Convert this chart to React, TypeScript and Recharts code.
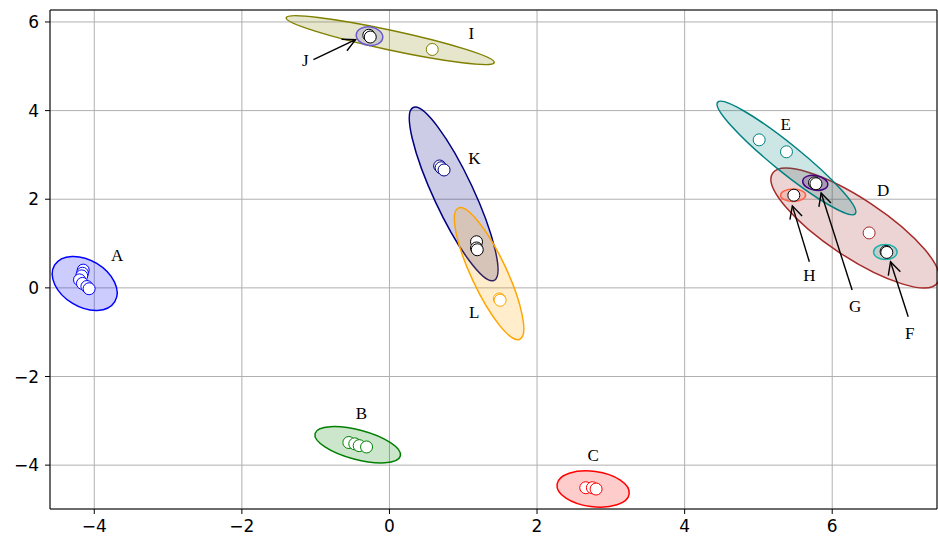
import React from "react";
import {
  ScatterChart,
  Scatter,
  XAxis,
  YAxis,
  CartesianGrid,
  ReferenceArea,
  ReferenceLine,
} from "recharts";

// axis limits and ticks
const xDomain: [number, number] = [-4.6, 7.42];
const yDomain: [number, number] = [-4.99, 6.27];
const xTicks = [-4, -2, 0, 2, 4, 6];
const yTicks = [-4, -2, 0, 2, 4, 6];

type Pt = { x: number; y: number };

// cluster members
const pointsA: Pt[] = [
  { x: -4.15, y: 0.4 },
  { x: -4.16, y: 0.33 },
  { x: -4.17, y: 0.27 },
  { x: -4.2, y: 0.18 },
  { x: -4.16, y: 0.1 },
  { x: -4.1, y: 0.03 },
  { x: -4.07, y: -0.02 },
];
const pointsB: Pt[] = [
  { x: -0.55, y: -3.49 },
  { x: -0.47, y: -3.52 },
  { x: -0.41, y: -3.56 },
  { x: -0.31, y: -3.59 },
];
const pointsC: Pt[] = [
  { x: 2.66, y: -4.51 },
  { x: 2.75, y: -4.51 },
  { x: 2.8, y: -4.54 },
];
const pointsD: Pt[] = [{ x: 6.5, y: 1.24 }];
const pointsE: Pt[] = [
  { x: 5.01, y: 3.34 },
  { x: 5.38, y: 3.07 },
];
const pointsF: Pt[] = [
  { x: 6.73, y: 0.82 },
  { x: 6.74, y: 0.8 },
];
const pointsG: Pt[] = [
  { x: 5.76, y: 2.37 },
  { x: 5.78, y: 2.35 },
];
const pointsH: Pt[] = [{ x: 5.48, y: 2.09 }];
const pointsI: Pt[] = [{ x: 0.58, y: 5.38 }];
const pointsJ: Pt[] = [
  { x: -0.28, y: 5.7 },
  { x: -0.26, y: 5.66 },
];
const pointsK: Pt[] = [
  { x: 0.68, y: 2.75 },
  { x: 0.7, y: 2.71 },
  { x: 0.74, y: 2.66 },
];
const pointsL: Pt[] = [
  { x: 1.49, y: -0.25 },
  { x: 1.5, y: -0.28 },
];
const pointsM: Pt[] = [
  { x: 1.18, y: 1.04 },
  { x: 1.18, y: 0.9 },
  { x: 1.19, y: 0.86 },
];

// ellipses: centre, half extents (x, y) and correlation
const ellipseNames = ["A", "B", "C", "D", "E", "F", "G", "H", "I", "J", "K", "L"];
const ellipseCx = [-4.13, -0.43, 2.76, 6.31, 5.38, 6.72, 5.77, 5.47, 0.01, -0.27, 0.87, 1.35];
const ellipseCy = [0.1, -3.54, -4.54, 1.35, 2.93, 0.81, 2.37, 2.09, 5.59, 5.68, 2.12, 0.32];
const ellipseHx = [0.44, 0.58, 0.49, 1.14, 0.94, 0.16, 0.17, 0.17, 1.41, 0.18, 0.6, 0.47];
const ellipseHy = [0.61, 0.41, 0.41, 1.35, 1.28, 0.17, 0.17, 0.14, 0.55, 0.21, 1.96, 1.49];
const ellipseRho = [-0.35, -0.55, -0.2, -0.82, -0.95, 0, -0.2, 0, -0.91, -0.1, -0.87, -0.83];

// text labels
const labels = [
  { x: -3.69, y: 0.72, name: "A" },
  { x: -0.38, y: -2.84, name: "B" },
  { x: 2.76, y: -3.79, name: "C" },
  { x: 6.69, y: 2.19, name: "D" },
  { x: 5.37, y: 3.68, name: "E" },
  { x: 7.05, y: -1.02, name: "F" },
  { x: 6.31, y: -0.43, name: "G" },
  { x: 5.69, y: 0.27, name: "H" },
  { x: 1.11, y: 5.73, name: "I" },
  { x: -1.14, y: 5.12, name: "J" },
  { x: 1.15, y: 2.91, name: "K" },
  { x: 1.15, y: -0.56, name: "L" },
];

// annotation arrows (from text to point)
const arrows = [
  { name: "J", x1: -1.03, y1: 5.15, x2: -0.46, y2: 5.6 },
  { name: "H", x1: 5.69, y1: 0.59, x2: 5.46, y2: 1.85 },
  { name: "G", x1: 6.27, y1: -0.05, x2: 5.85, y2: 2.14 },
  { name: "F", x1: 7.03, y1: -0.65, x2: 6.79, y2: 0.59 },
];

const colors: Record<string, string> = {
  A: "#0000ff",
  B: "#008000",
  C: "#ff0000",
  D: "#a52a2a",
  E: "#008080",
  F: "#20b2aa",
  G: "#4b0082",
  H: "#ff6347",
  I: "#808000",
  J: "#6a5acd",
  K: "#000080",
  L: "#ffa500",
};

const series = [
  { data: pointsA, edge: colors.A },
  { data: pointsB, edge: colors.B },
  { data: pointsC, edge: colors.C },
  { data: pointsD, edge: colors.D },
  { data: pointsE, edge: colors.E },
  { data: pointsI, edge: colors.I },
  { data: pointsK, edge: colors.K },
  { data: pointsL, edge: colors.L },
  { data: pointsM, edge: "#000" },
  { data: pointsF, edge: "#000" },
  { data: pointsG, edge: "#000" },
  { data: pointsH, edge: "#000" },
  { data: pointsJ, edge: "#000" },
];

const fmt = (v: number) => (v < 0 ? `\u2212${Math.abs(v)}` : `${v}`);

const dot = (edge: string) => (p: any) =>
  <circle cx={p.cx} cy={p.cy} r={6} fill="#fff" stroke={edge} strokeWidth={1} />;

// bounding rect of the ellipse comes from the reference area, shape from rho
const ellipseShape = (rho: number, color: string) => (p: any) => {
  const { x, y, width, height } = p;
  const a = Math.abs(width) / 2;
  const b = Math.abs(height) / 2;
  const cx = x + width / 2;
  const cy = y + height / 2;
  const m12 = -rho * a * b;
  const mean = (a * a + b * b) / 2;
  const d = Math.sqrt(((a * a - b * b) / 2) ** 2 + m12 * m12);
  const r1 = Math.sqrt(mean + d);
  const r2 = Math.sqrt(Math.max(mean - d, 0));
  const ang = (0.5 * Math.atan2(2 * m12, a * a - b * b) * 180) / Math.PI;
  return (
    <ellipse
      cx={cx}
      cy={cy}
      rx={r1}
      ry={r2}
      transform={`rotate(${ang} ${cx} ${cy})`}
      fill={color}
      fillOpacity={0.2}
      stroke={color}
      strokeWidth={1.5}
    />
  );
};

const arrowShape = (p: any) => {
  const { x1, y1, x2, y2 } = p;
  const ang = Math.atan2(y1 - y2, x1 - x2);
  const len = 14;
  const spread = 0.47;
  const ax = x2 + len * Math.cos(ang + spread);
  const ay = y2 + len * Math.sin(ang + spread);
  const bx = x2 + len * Math.cos(ang - spread);
  const by = y2 + len * Math.sin(ang - spread);
  return (
    <g>
      <line x1={x1} y1={y1} x2={x2} y2={y2} stroke="#000" strokeWidth={1.4} />
      <path d={`M${ax},${ay}L${x2},${y2}L${bx},${by}`} fill="none" stroke="#000" strokeWidth={1.4} />
    </g>
  );
};

const labelShape = (p: any) => (
  <text
    x={p.cx}
    y={p.cy}
    textAnchor="middle"
    dominantBaseline="central"
    fontFamily="'Liberation Serif', 'Times New Roman', serif"
    fontSize={17}
    fill="#000"
  >
    {p.payload.name}
  </text>
);

const tickStyle = { fill: "#000", fontSize: 17, fontFamily: "'DejaVu Sans', sans-serif" };

export default function App() {
  return (
    <div style={{ position: "absolute", left: 0, top: 0 }}>
      <ScatterChart width={938} height={541} margin={{ top: 10, right: 1, left: 0, bottom: 0 }}>
        <CartesianGrid stroke="#b0b0b0" strokeWidth={1} />
        <XAxis
          type="number"
          dataKey="x"
          domain={xDomain}
          ticks={xTicks}
          allowDataOverflow
          tickFormatter={fmt}
          height={32}
          tickSize={5}
          tickMargin={6}
          tick={tickStyle}
          axisLine={{ stroke: "#000" }}
          tickLine={{ stroke: "#000" }}
        />
        <YAxis
          type="number"
          dataKey="y"
          domain={yDomain}
          ticks={yTicks}
          allowDataOverflow
          tickFormatter={fmt}
          width={50}
          tickSize={5}
          tickMargin={6}
          tick={tickStyle}
          axisLine={{ stroke: "#000" }}
          tickLine={{ stroke: "#000" }}
        />
        <ReferenceLine y={yDomain[1]} stroke="#000" strokeWidth={1} />
        <ReferenceLine x={xDomain[1]} stroke="#000" strokeWidth={1} />
        {ellipseNames.map((n, i) => (
          <ReferenceArea
            key={n}
            x1={ellipseCx[i] - ellipseHx[i]}
            x2={ellipseCx[i] + ellipseHx[i]}
            y1={ellipseCy[i] - ellipseHy[i]}
            y2={ellipseCy[i] + ellipseHy[i]}
            ifOverflow="hidden"
            shape={ellipseShape(ellipseRho[i], colors[n])}
          />
        ))}
        {arrows.map((a) => (
          <ReferenceLine
            key={a.name}
            segment={[
              { x: a.x1, y: a.y1 },
              { x: a.x2, y: a.y2 },
            ]}
            ifOverflow="visible"
            shape={arrowShape}
          />
        ))}
        {series.map((s, i) => (
          <Scatter key={i} data={s.data} shape={dot(s.edge)} isAnimationActive={false} />
        ))}
        <Scatter data={labels} shape={labelShape} isAnimationActive={false} />
      </ScatterChart>
    </div>
  );
}
